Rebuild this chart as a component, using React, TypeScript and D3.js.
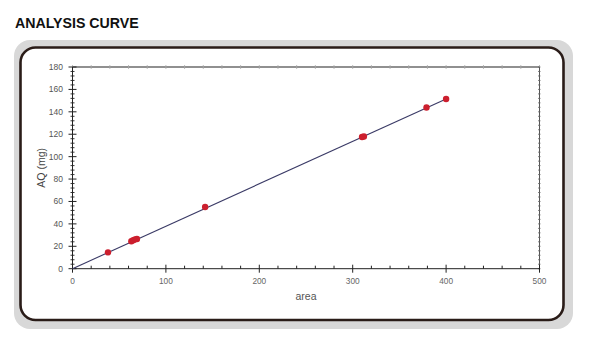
import React from "react";
import * as d3 from "d3";

const areaValues = [38, 63, 65, 67, 69, 142, 310, 312, 379, 400];
const aqValues = [14.6, 24.5, 25.5, 26.2, 26.5, 55, 117.5, 118, 143.8, 151.5];
const fitX = [0, 400];
const fitY = [0, 151.5];
const xTicks = [0, 100, 200, 300, 400, 500];
const yTicks = [0, 20, 40, 60, 80, 100, 120, 140, 160, 180];

export default function App() {
  const W = 591, H = 342;
  const left = 72.5, right = 539.5, top = 67, bottom = 268.7;
  const x = d3.scaleLinear().domain([0, 500]).range([left, right]);
  const y = d3.scaleLinear().domain([0, 180]).range([bottom, top]);
  const line = d3.line<number>().x((d) => x(fitX[d])).y((d) => y(fitY[d]));
  const xMinor = d3.range(0, 501, 20).filter((v) => v % 100 !== 0);
  const yMinor = d3.range(0, 181, 4).filter((v) => v % 20 !== 0);
  const font = "Arial, 'Liberation Sans', Helvetica, sans-serif";
  return (
    <svg width={W} height={H} style={{ position: "absolute", left: 0, top: 0 }}>
      <rect width={W} height={H} fill="#fff" />
      <text x={15} y={28} fontFamily={font} fontWeight="bold" fontSize={14.2} fill="#111">
        ANALYSIS CURVE
      </text>
      <rect x={14} y={40} width={559} height={289} rx={16} fill="#d8d8d8" />
      <rect x={20.5} y={47.5} width={543} height={272.5} rx={15} fill="#fff" stroke="#2a1c18" strokeWidth={2.6} />
      {/* top axis */}
      <line x1={left} x2={right} y1={top} y2={top} stroke="#222" strokeWidth={1.1} />
      {d3.range(0, 501, 20).map((v) => (
        <line key={"t" + v} x1={x(v)} x2={x(v)} y1={top - 2} y2={top + 2} stroke="#aaa" strokeWidth={0.8} />
      ))}
      {/* right axis */}
      <line x1={right} x2={right} y1={top} y2={bottom} stroke="#555" strokeWidth={1} />
      {d3.range(0, 181, 4).map((v) => (
        <line key={"r" + v} x1={right - 1.5} x2={right + 1} y1={y(v)} y2={y(v)} stroke="#666" strokeWidth={0.8} />
      ))}
      {/* bottom axis */}
      <line x1={left} x2={right} y1={bottom} y2={bottom} stroke="#222" strokeWidth={1} />
      {xTicks.map((v) => (
        <g key={"x" + v}>
          <line x1={x(v)} x2={x(v)} y1={bottom - 4} y2={bottom + 4} stroke="#222" strokeWidth={1} />
          <text x={x(v)} y={284} textAnchor="middle" fontFamily={font} fontSize={8.3} fill="#666">{v}</text>
        </g>
      ))}
      {xMinor.map((v) => (
        <line key={"xm" + v} x1={x(v)} x2={x(v)} y1={bottom - 3} y2={bottom} stroke="#222" strokeWidth={1} />
      ))}
      <text x={(left + right) / 2} y={299.5} textAnchor="middle" fontFamily={font} fontSize={10.5} fill="#555">area</text>
      {/* left axis */}
      <line x1={left} x2={left} y1={top} y2={bottom} stroke="#222" strokeWidth={1} />
      {yTicks.map((v) => (
        <g key={"y" + v}>
          <line x1={left - 4} x2={left + 4} y1={y(v)} y2={y(v)} stroke="#222" strokeWidth={1} />
          <text x={63} y={y(v) + 3} textAnchor="end" fontFamily={font} fontSize={8.5} fill="#555">{v}</text>
        </g>
      ))}
      {yMinor.map((v) => (
        <line key={"ym" + v} x1={left - 2} x2={left + 2} y1={y(v)} y2={y(v)} stroke="#222" strokeWidth={0.9} />
      ))}
      <text transform={`translate(45, ${(top + bottom) / 2}) rotate(-90)`} textAnchor="middle" fontFamily={font} fontSize={10.5} fill="#444">AQ (mg)</text>
      {/* fit line */}
      <path d={line([0, 1]) || ""} stroke="#3a3a66" strokeWidth={1.1} fill="none" />
      {areaValues.map((a, i) => (
        <circle key={"p" + i} cx={x(a)} cy={y(aqValues[i])} r={3.2} fill="#cc1f2e" />
      ))}
    </svg>
  );
}
